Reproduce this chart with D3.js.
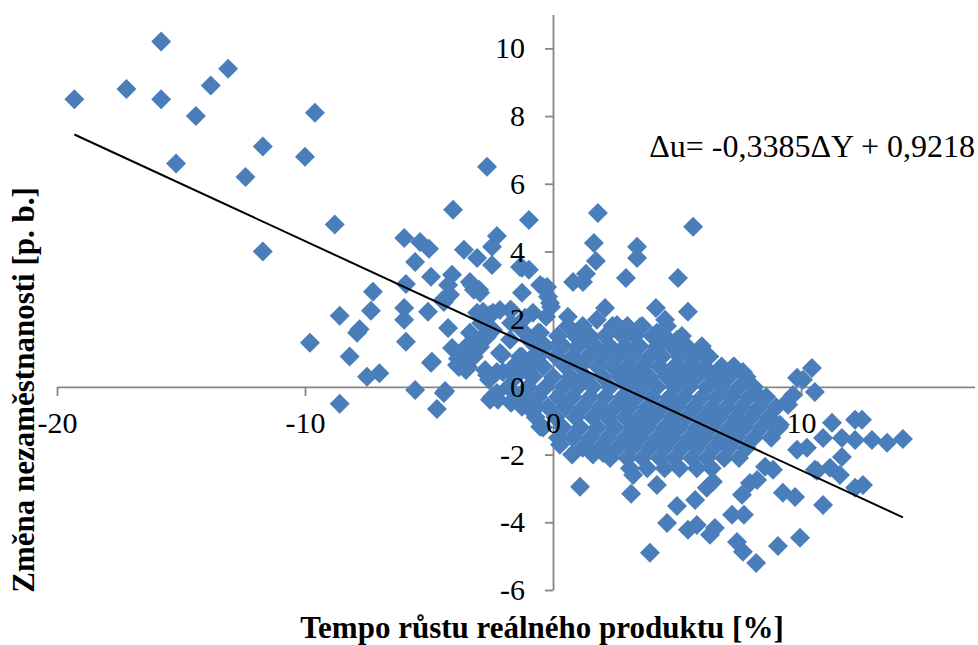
<!DOCTYPE html>
<html>
<head>
<meta charset="utf-8">
<script src="https://cdn.jsdelivr.net/npm/d3@7"></script>
<style>
  body { margin: 0; background: #fff; }
  text { font-family: "Liberation Serif", "Times New Roman", serif; }
</style>
</head>
<body>
<div id="chart"></div>
<script>
var WIDTH = 978;
var HEIGHT = 645;

// data: [tempo rustu HDP %, zmena nezamestnanosti p.b.]
var farLeft = [
    [-19.3, 8.5], [-17.2, 8.8], [-15.8, 10.2], [-15.8, 8.5], [-15.2, 6.6], [-14.4, 8.0],
    [-13.8, 8.9], [-13.1, 9.4], [-12.4, 6.2], [-11.7, 7.1], [-11.7, 4.0], [-10.0, 6.8],
    [-9.6, 8.1], [-8.8, 4.8], [-9.8, 1.3], [-8.6, 2.1], [-8.2, 0.9], [-8.6, -0.5]
];

var midLeft = [
    [-7.8, 1.7], [-7.9, 1.6], [-7.5, 0.3], [-7.0, 0.4], [-7.26, 2.81], [-7.34, 2.25],
    [-6.0, 4.4], [-5.36, 4.28], [-5.0, 4.08], [-5.56, 3.69], [-5.93, 3.04], [-6.0, 2.33],
    [-6.0, 1.98], [-5.93, 1.33], [-5.56, -0.09], [-5.04, 2.22], [-4.92, 3.25], [-4.92, 0.71],
    [-4.4, -0.18], [-4.68, -0.65], [-4.4, 2.51], [-4.15, 2.72], [-4.23, 1.74], [-4.07, 3.31],
    [-4.23, 3.01], [-4.07, 1.15], [-4.03, 5.23], [-3.79, 0.59], [-3.59, 4.05], [-3.51, 1.18],
    [-3.51, 0.5], [-3.35, 3.1], [-3.19, 2.87], [-2.98, 2.87], [-3.19, 0.89], [-3.35, 1.6],
    [-3.06, 2.19], [-2.9, 1.89], [-2.66, 1.48], [-3.06, 3.81], [-2.82, 2.22], [-2.74, 0.5],
    [-2.66, 6.5], [-2.58, 0.21], [-2.54, 2.13], [-2.46, 4.14], [-2.46, 3.6], [-2.46, -0.3],
    [-2.26, 4.46], [-2.22, -0.38], [-2.14, 2.27], [-2.14, 1.0], [-2.06, 0.95], [-2.02, 0.44],
    [-1.69, 2.27], [-1.69, 1.89], [-1.69, -0.47], [-1.41, 0.59], [-1.25, 3.52], [-1.25, 2.78],
    [-1.25, 1.68], [-1.25, 0.89], [-1.25, -0.59], [-0.97, 3.46], [-0.97, 4.93], [-0.97, 1.39],
    [-0.97, 0.41], [-0.97, -0.38], [-0.81, 2.19], [-0.81, 0.89], [-0.65, 1.18], [-0.65, -0.59],
    [-0.6, 1.6], [-0.52, 3.01], [-0.52, -1.18], [-0.36, 1.18], [-0.28, 2.07], [-0.2, 2.66],
    [-0.12, 2.48], [-0.08, 2.36], [-4.88, 0.74], [-3.83, 0.83], [-3.87, 0.65], [-3.47, 0.97],
    [-3.43, 0.59], [-2.94, 1.18], [-3.23, 1.33], [-2.82, 1.48], [-2.42, 1.68], [-2.66, 0.35],
    [-2.26, 0.44], [-4.35, -0.12], [-3.27, 3.01], [-2.94, 2.78], [-4.44, 2.57], [-0.4, 2.95],
    [-1.33, 3.54], [-2.42, 2.19], [-1.73, 2.27], [-1.13, 2.04], [-0.52, 1.6], [-1.73, 1.39],
    [-1.33, 0.89], [-1.61, 0.59], [-0.65, 0.71], [-1.61, 0.41], [-2.26, -0.18], [-2.54, -0.38],
    [-1.61, -0.38], [-1.05, -0.47]
];

var upperRight = [
    [1.81, 5.14], [5.65, 4.73], [1.65, 4.25], [3.39, 4.14], [1.73, 3.72], [3.39, 3.81],
    [1.33, 3.34], [0.81, 3.1], [1.21, 3.1], [2.94, 3.22], [5.04, 3.22], [-0.24, 2.95],
    [2.1, 2.33], [4.15, 2.33], [5.44, 2.22], [0.6, 2.07], [1.77, 1.98], [4.52, 1.98],
    [2.58, 1.83], [3.51, 1.77], [2.82, 1.68], [1.09, 1.48], [0.28, 1.3], [1.49, 1.3],
    [4.19, 1.6], [5.0, 1.39], [5.6, 1.0], [6.2, 0.5], [7.26, 0.59], [7.66, 0.44]
];

var core = [
    [0.6, 1.8], [1.2, 1.8], [2.4, 1.8], [3.0, 1.8], [3.6, 1.8], [4.6, 1.8],
    [0.2, 1.5], [0.9, 1.5], [1.5, 1.5], [2.1, 1.5], [2.8, 1.5], [3.3, 1.5], [4.0, 1.5], [4.5, 1.5], [5.2, 1.5],
    [-0.3, 1.2], [0.4, 1.2], [1.0, 1.2], [1.7, 1.2], [2.3, 1.2], [2.9, 1.2], [3.5, 1.2], [4.2, 1.2], [4.8, 1.2], [5.4, 1.2], [6.0, 1.2],
    [-0.6, 0.9], [0.1, 0.9], [0.8, 0.9], [1.4, 0.9], [2.0, 0.9], [2.6, 0.9], [3.2, 0.9], [3.9, 0.9], [4.4, 0.9], [5.1, 0.9], [5.7, 0.9], [6.3, 0.9],
    [-1.2, 0.6], [-0.4, 0.6], [0.5, 0.6], [1.1, 0.6], [1.8, 0.6], [2.4, 0.6], [3.0, 0.6], [3.6, 0.6], [4.3, 0.6], [4.9, 0.6], [5.5, 0.6], [6.1, 0.6], [6.8, 0.6], [7.3, 0.6],
    [-1.5, 0.3], [-0.8, 0.3], [0.0, 0.3], [0.7, 0.3], [1.3, 0.3], [2.0, 0.3], [2.7, 0.3], [3.3, 0.3], [3.9, 0.3], [4.6, 0.3], [5.2, 0.3], [5.8, 0.3], [6.5, 0.3], [7.1, 0.3], [7.8, 0.3],
    [-1.8, 0.0], [-1.0, 0.0], [-0.3, 0.0], [0.4, 0.0], [1.0, 0.0], [1.6, 0.0], [2.3, 0.0], [3.0, 0.0], [3.6, 0.0], [4.2, 0.0], [4.9, 0.0], [5.5, 0.0], [6.2, 0.0], [6.8, 0.0], [7.5, 0.0], [8.1, 0.0],
    [-1.4, -0.3], [-0.6, -0.3], [0.2, -0.3], [0.8, -0.3], [1.5, -0.3], [2.1, -0.3], [2.8, -0.3], [3.4, -0.3], [4.0, -0.3], [4.7, -0.3], [5.3, -0.3], [6.0, -0.3], [6.6, -0.3], [7.2, -0.3], [7.9, -0.3], [8.6, -0.3],
    [-1.0, -0.6], [-0.2, -0.6], [0.5, -0.6], [1.2, -0.6], [1.9, -0.6], [2.5, -0.6], [3.1, -0.6], [3.8, -0.6], [4.4, -0.6], [5.0, -0.6], [5.7, -0.6], [6.4, -0.6], [7.0, -0.6], [7.6, -0.6], [8.3, -0.6], [9.0, -0.6],
    [-0.7, -0.9], [0.1, -0.9], [0.9, -0.9], [1.6, -0.9], [2.2, -0.9], [2.9, -0.9], [3.5, -0.9], [4.1, -0.9], [4.8, -0.9], [5.4, -0.9], [6.1, -0.9], [6.7, -0.9], [7.4, -0.9], [8.0, -0.9], [8.7, -0.9],
    [-0.4, -1.2], [0.4, -1.2], [1.1, -1.2], [1.8, -1.2], [2.5, -1.2], [3.2, -1.2], [3.8, -1.2], [4.5, -1.2], [5.1, -1.2], [5.8, -1.2], [6.4, -1.2], [7.1, -1.2], [7.7, -1.2], [8.4, -1.2], [9.1, -1.2],
    [0.2, -1.5], [0.8, -1.5], [1.5, -1.5], [2.2, -1.5], [2.9, -1.5], [3.5, -1.5], [4.2, -1.5], [4.8, -1.5], [5.5, -1.5], [6.1, -1.5], [6.8, -1.5], [7.4, -1.5], [8.1, -1.5], [8.8, -1.5],
    [1.2, -1.8], [1.9, -1.8], [2.6, -1.8], [3.2, -1.8], [3.9, -1.8], [4.5, -1.8], [5.2, -1.8], [5.8, -1.8], [6.5, -1.8], [7.1, -1.8], [7.8, -1.8],
    [2.3, -2.1], [3.0, -2.1], [3.6, -2.1], [4.3, -2.1], [4.9, -2.1], [5.6, -2.1], [6.2, -2.1], [6.9, -2.1], [7.5, -2.1],
    [3.1, -2.4], [3.8, -2.4], [4.5, -2.4], [5.1, -2.4], [5.8, -2.4], [6.4, -2.4]
];

var lowerRight = [
    [10.44, 0.56], [9.84, 0.27], [10.08, 0.21], [10.56, -0.15], [9.68, -0.24], [9.48, -0.53],
    [8.35, -0.3], [11.25, -1.06], [12.18, -0.97], [12.46, -0.97], [8.75, -1.03], [9.15, -1.12],
    [10.89, -1.51], [11.65, -1.51], [12.18, -1.57], [12.86, -1.57], [13.47, -1.65], [14.11, -1.54],
    [9.84, -1.86], [10.24, -1.8], [11.65, -2.07], [10.56, -2.45], [11.17, -2.39], [11.57, -2.6],
    [12.18, -2.98], [12.5, -2.9], [9.27, -3.13], [9.76, -3.25], [10.89, -3.49], [8.55, -2.36],
    [8.87, -2.45], [9.4, -0.47]
];

var bottom = [
    [1.09, -2.95], [3.15, -3.16], [4.19, -2.9], [5.0, -3.52], [4.6, -4.02], [3.91, -4.9],
    [5.44, -4.22], [5.8, -4.08], [6.33, -4.37], [6.53, -4.17], [7.22, -3.78], [7.7, -3.78],
    [7.42, -4.58], [7.66, -4.87], [8.19, -5.2], [9.07, -4.7], [9.96, -4.46], [7.62, -3.19],
    [7.94, -2.84], [8.23, -2.75], [5.73, -3.34], [6.2, -2.98], [6.45, -2.8], [3.23, -2.6],
    [0.77, -2.0], [1.61, -2.0], [2.02, -1.95], [0.28, -1.71], [10.65, -2.48]
];

var xTicks = [-20, -10, 0, 10];
var yTicks = [-6, -4, -2, 0, 2, 4, 6, 8, 10];

var slope = -0.3385;
var intercept = 0.9218;
var equationText = "\u0394u= -0,3385\u0394Y + 0,9218";

var points = farLeft.concat(midLeft, upperRight, core, lowerRight, bottom);

var svg = d3.select("#chart").append("svg")
    .attr("width", WIDTH)
    .attr("height", HEIGHT);

var x = d3.scaleLinear().domain([-20, 17]).range([57, 974.6]);
var y = d3.scaleLinear().domain([-6, 11]).range([590, 14.5]);

// plain hyphen for negatives, like the original
function tickFmt(d) { return String(d); }

// axes (lines + ticks first, labels later so they sit on top)
var xAxis = svg.append("g")
    .attr("transform", "translate(0," + y(0) + ")")
    .call(d3.axisBottom(x).tickValues(xTicks).tickSize(9).tickSizeOuter(0));

var yAxis = svg.append("g")
    .attr("transform", "translate(" + x(0) + ",0)")
    .call(d3.axisLeft(y).tickValues(yTicks).tickSize(8).tickSizeOuter(0));

[xAxis, yAxis].forEach(function(ax) {
    ax.select(".domain").attr("stroke", "#868686").attr("stroke-width", 1.8);
    ax.selectAll(".tick line").attr("stroke", "#868686").attr("stroke-width", 1.8);
    ax.selectAll(".tick text").remove();
});

// points
var diamond = d3.symbol().type(d3.symbolSquare).size(200);
svg.append("g")
    .selectAll("path")
    .data(points)
    .enter().append("path")
    .attr("d", diamond)
    .attr("transform", function(d) { return "translate(" + x(d[0]) + "," + y(d[1]) + ") rotate(45)"; })
    .attr("fill", "#4a7ebb");

// trendline over the data range
var xr = d3.extent(points, function(d) { return d[0]; });
svg.append("line")
    .attr("x1", x(xr[0]))
    .attr("y1", y(slope * xr[0] + intercept))
    .attr("x2", x(xr[1]))
    .attr("y2", y(slope * xr[1] + intercept))
    .attr("stroke", "#000")
    .attr("stroke-width", 2);

function styleLabels(g) {
    g.select(".domain").remove();
    g.selectAll(".tick line").remove();
    g.selectAll(".tick text").attr("font-size", 30).attr("fill", "#000")
        .attr("font-family", "'Liberation Serif', 'Times New Roman', serif");
}

// tick labels on top
svg.append("g")
    .attr("transform", "translate(0," + y(0) + ")")
    .call(d3.axisBottom(x).tickValues(xTicks).tickSize(9).tickPadding(16).tickFormat(tickFmt))
    .call(styleLabels);

svg.append("g")
    .attr("transform", "translate(" + x(0) + ",0)")
    .call(d3.axisLeft(y).tickValues(yTicks).tickSize(8).tickPadding(20).tickFormat(tickFmt))
    .call(styleLabels);

// equation
svg.append("text")
    .attr("x", 975)
    .attr("y", 157)
    .attr("text-anchor", "end")
    .attr("font-size", 32)
    .text(equationText);

// axis titles
svg.append("text")
    .attr("x", 542)
    .attr("y", 638)
    .attr("text-anchor", "middle")
    .attr("font-size", 31)
    .attr("font-weight", "bold")
    .text("Tempo růstu reálného produktu [%]");

svg.append("text")
    .attr("transform", "translate(34,390) rotate(-90)")
    .attr("text-anchor", "middle")
    .attr("font-size", 31)
    .attr("font-weight", "bold")
    .text("Změna nezaměstnanosti [p. b.]");
</script>
</body>
</html>
